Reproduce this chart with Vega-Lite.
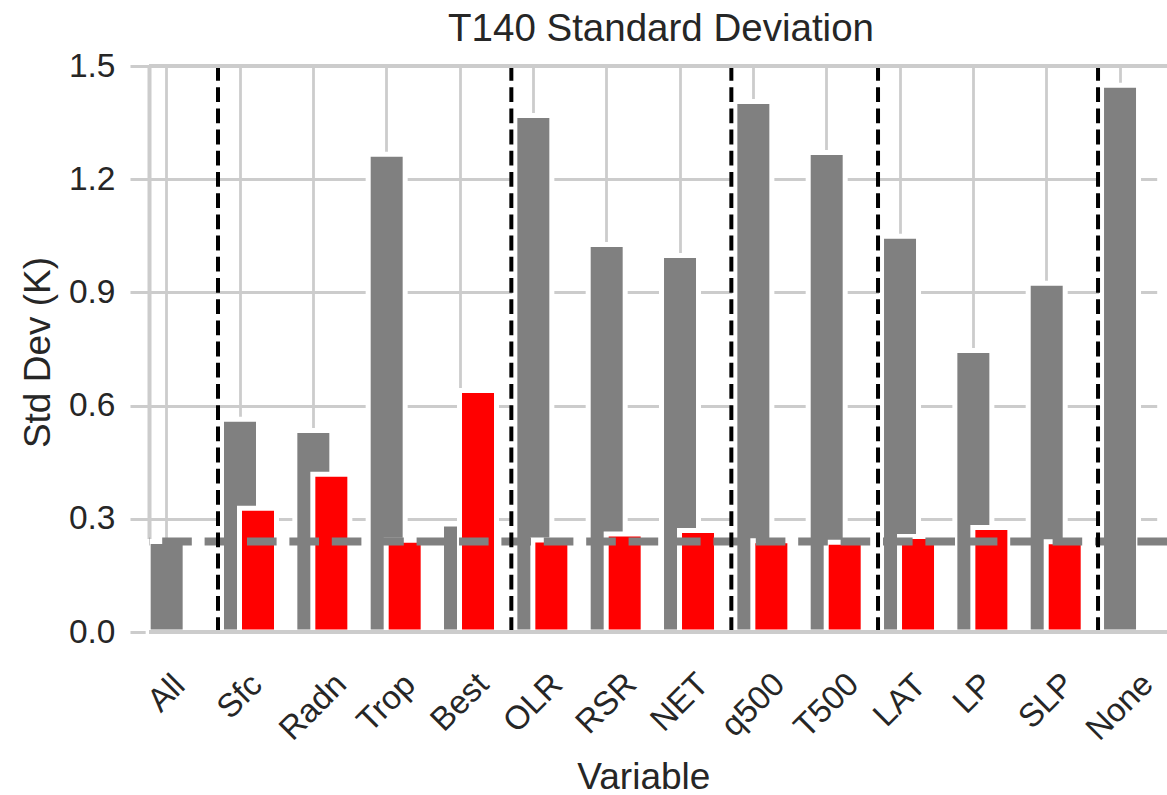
{
  "$schema": "https://vega.github.io/schema/vega-lite/v6.json",
  "width": 1018,
  "height": 566,
  "autosize": {"type": "none"},
  "padding": {"left": 149, "top": 66, "right": 0, "bottom": 163},
  "background": "white",
  "config": {
    "font": "Liberation Sans",
    "view": {"stroke": null}
  },
  "title": {
    "text": "T140 Standard Deviation",
    "fontSize": 38.5,
    "fontWeight": "normal",
    "color": "#262626",
    "anchor": "middle",
    "offset": 0,
    "dx": 3
  },
  "data": {
    "values": [
      {"Variable": "All", "gray": 0.240, "red": null},
      {"Variable": "Sfc", "gray": 0.564, "red": 0.328},
      {"Variable": "Radn", "gray": 0.534, "red": 0.418},
      {"Variable": "Trop", "gray": 1.266, "red": 0.243},
      {"Variable": "Best", "gray": 0.286, "red": 0.640},
      {"Variable": "OLR", "gray": 1.369, "red": 0.244},
      {"Variable": "RSR", "gray": 1.027, "red": 0.260},
      {"Variable": "NET", "gray": 0.998, "red": 0.269},
      {"Variable": "q500", "gray": 1.406, "red": 0.242},
      {"Variable": "T500", "gray": 1.271, "red": 0.238},
      {"Variable": "LAT", "gray": 1.049, "red": 0.253},
      {"Variable": "LP", "gray": 0.746, "red": 0.277},
      {"Variable": "SLP", "gray": 0.924, "red": 0.239},
      {"Variable": "None", "gray": 1.449, "red": null}
    ]
  },
  "layer": [
    {
      "mark": {"type": "bar", "color": "#808080", "width": 37, "stroke": "white", "strokeWidth": 5},
      "encoding": {
        "x": {
          "field": "Variable",
          "type": "nominal",
          "sort": null,
          "title": "Variable",
          "scale": {
            "domain": ["All", "Sfc", "Radn", "Trop", "Best", "OLR", "RSR", "NET", "q500", "T500", "LAT", "LP", "SLP", "None"],
            "range": [-19, 1007.7],
            "paddingInner": 0,
            "paddingOuter": 0
          },
          "axis": {
            "domain": false,
            "ticks": false,
            "grid": true,
            "gridColor": "#cccccc",
            "gridWidth": 2.8,
            "labelAngle": -45,
            "labelAlign": "center",
            "labelBaseline": "middle",
            "labelFontSize": 33,
            "labelColor": "#262626",
            "labelPadding": {
              "condition": [
                {"test": "datum.value === 'All'", "value": 61},
                {"test": "datum.value === 'Sfc'", "value": 64},
                {"test": "datum.value === 'Radn'", "value": 74.6},
                {"test": "datum.value === 'Trop'", "value": 70.7},
                {"test": "datum.value === 'Best'", "value": 70.0},
                {"test": "datum.value === 'OLR'", "value": 70.7},
                {"test": "datum.value === 'RSR'", "value": 71.3},
                {"test": "datum.value === 'NET'", "value": 70.0},
                {"test": "datum.value === 'q500'", "value": 72.7},
                {"test": "datum.value === 'T500'", "value": 73.3},
                {"test": "datum.value === 'LAT'", "value": 68.1},
                {"test": "datum.value === 'LP'", "value": 61.5},
                {"test": "datum.value === 'SLP'", "value": 68.7}
              ],
              "value": 74.6
            },
            "labelOverlap": false,
            "labelBound": false,
            "titleFontSize": 37,
            "titleFontWeight": "normal",
            "titleColor": "#262626",
            "titleBaseline": "alphabetic",
            "titleY": 156
          }
        },
        "y": {
          "field": "gray",
          "type": "quantitative",
          "title": "Std Dev (K)",
          "scale": {"domain": [0, 1.5], "nice": false},
          "axis": {
            "values": [0, 0.3, 0.6, 0.9, 1.2, 1.5],
            "format": ".1f",
            "domain": true,
            "domainColor": "#cccccc",
            "domainWidth": 4,
            "ticks": false,
            "grid": true,
            "gridColor": "#cccccc",
            "gridWidth": 2.8,
            "labelFontSize": 33.5,
            "labelColor": "#262626",
            "labelPadding": 34,
            "labelFlush": false,
            "labelOverlap": false,
            "titleFontSize": 37,
            "titleFontWeight": "normal",
            "titleColor": "#262626",
            "titleBaseline": "alphabetic",
            "titleAlign": "center",
            "titleX": -100,
            "titleY": 286
          }
        }
      }
    },
    {
      "mark": {"type": "bar", "color": "#ff0000", "width": 37, "stroke": "white", "strokeWidth": 5, "xOffset": 18},
      "encoding": {
        "x": {"field": "Variable", "type": "nominal", "sort": null, "title": "Variable"},
        "y": {"field": "red", "type": "quantitative", "title": "Std Dev (K)"}
      }
    },
    {
      "transform": [{"filter": "datum.Variable === 'All'"}],
      "mark": {"type": "rule", "color": "#808080", "strokeWidth": 8, "strokeDash": [29.6, 12.8]},
      "encoding": {
        "y": {"field": "gray", "type": "quantitative", "title": "Std Dev (K)"}
      }
    },
    {
      "data": {
        "values": [
          {"Variable": "Sfc"},
          {"Variable": "OLR"},
          {"Variable": "q500"},
          {"Variable": "LAT"},
          {"Variable": "None"}
        ]
      },
      "mark": {"type": "rule", "color": "black", "strokeWidth": 4, "strokeDash": [14.8, 6.4]},
      "encoding": {
        "x": {"field": "Variable", "type": "nominal", "bandPosition": 0.2, "title": "Variable"},
        "y": {"datum": 0},
        "y2": {"datum": 1.5}
      }
    },
    {
      "data": {"values": [{"edge": 0}, {"edge": 1.5}]},
      "mark": {"type": "rule", "color": "#cccccc", "strokeWidth": 4},
      "encoding": {
        "y": {"field": "edge", "type": "quantitative", "title": "Std Dev (K)"}
      }
    }
  ]
}
